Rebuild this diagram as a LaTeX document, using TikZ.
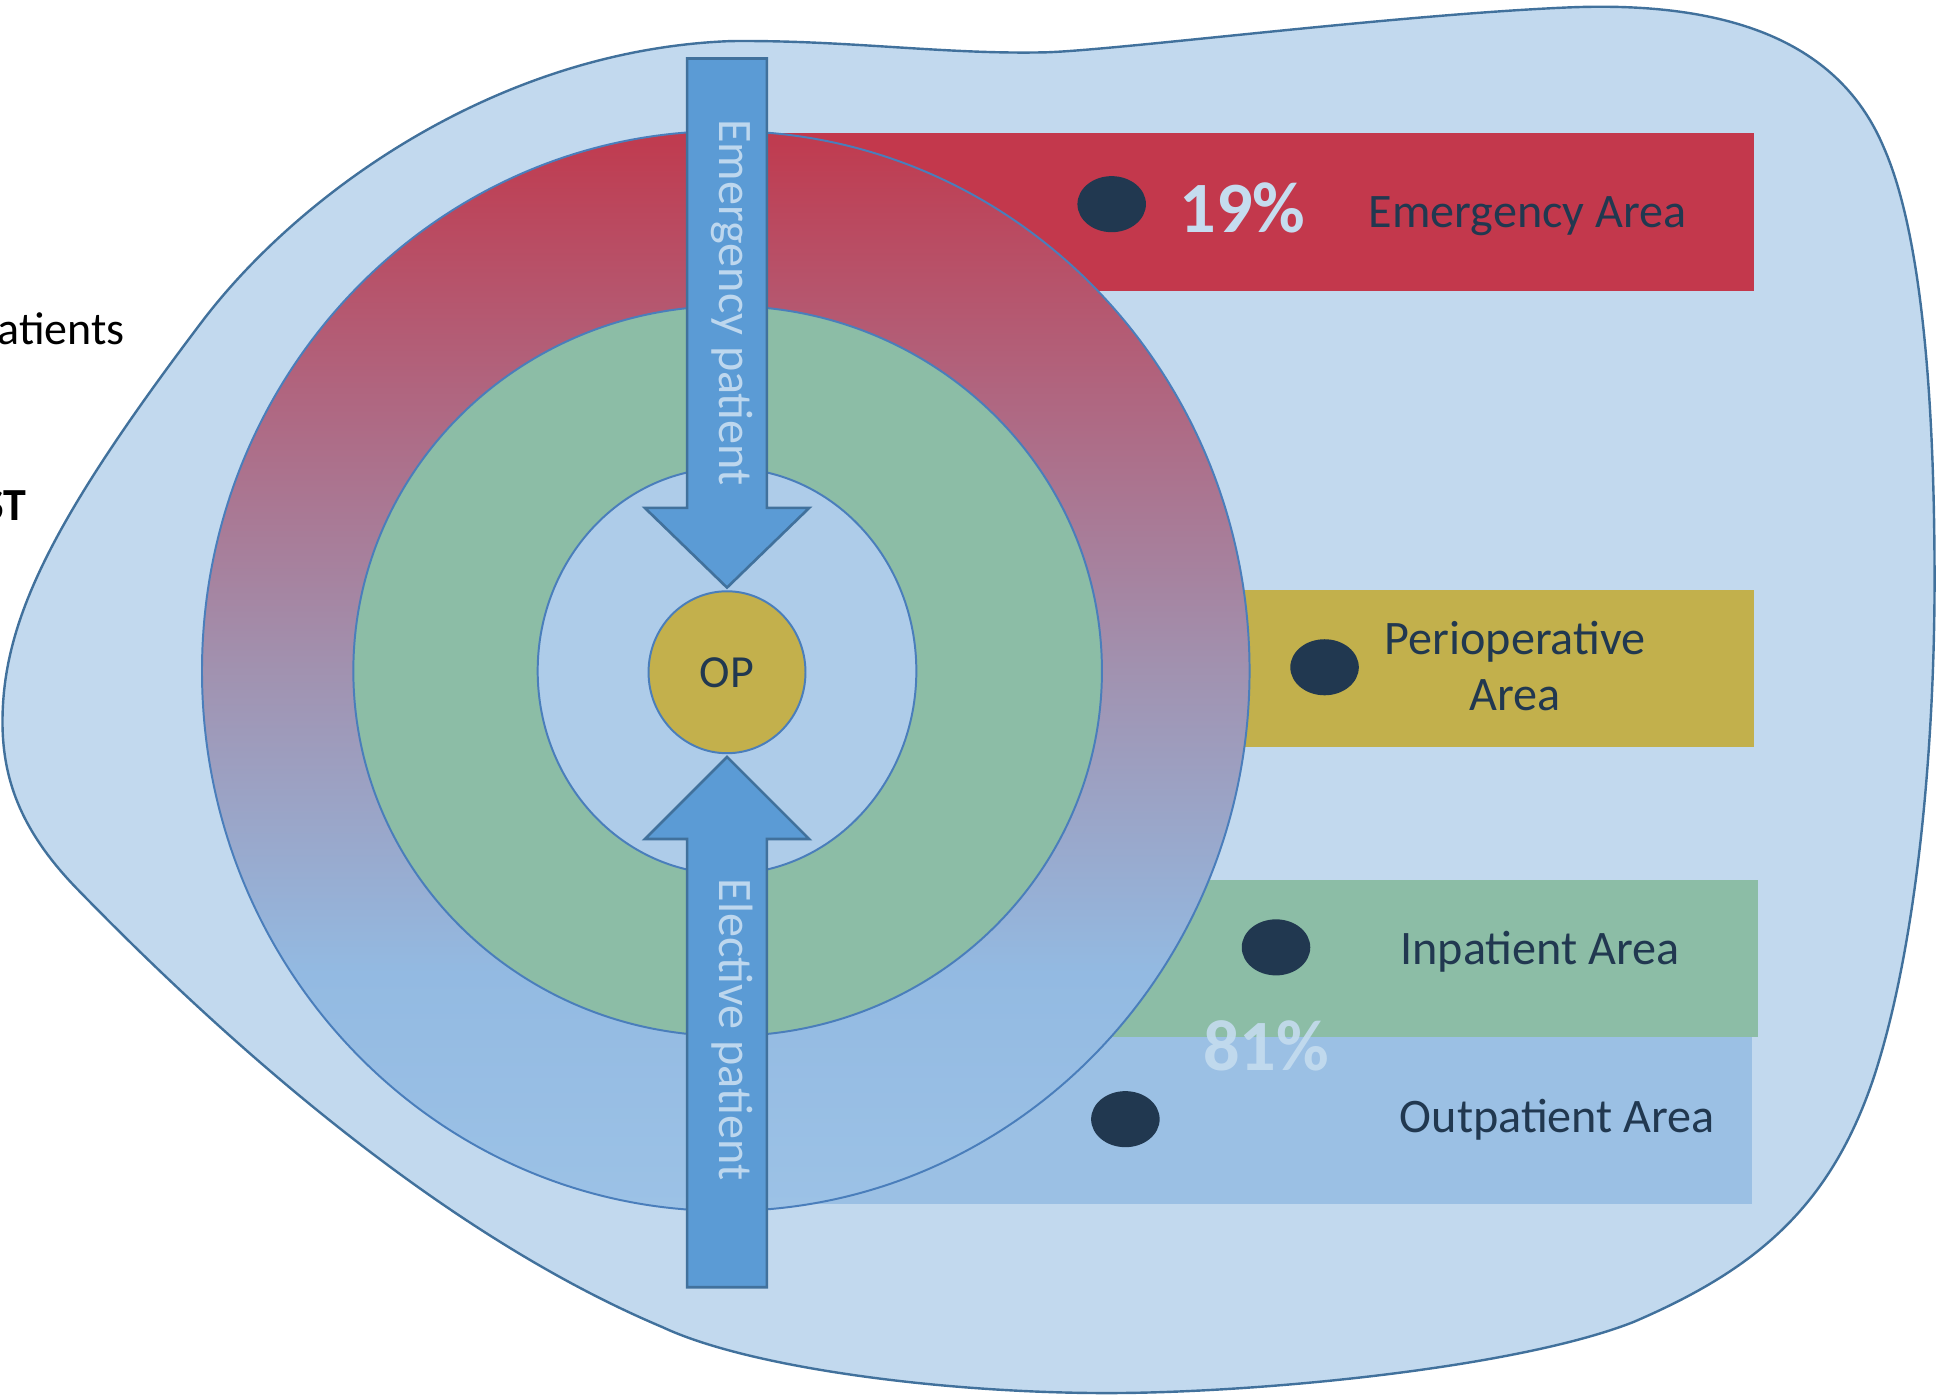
\documentclass[tikz,border=0pt]{standalone}
\usepackage{fontspec}
\setmainfont{Carlito}
\usetikzlibrary{shapes.geometric}
\definecolor{blobfill}{HTML}{C2D9EE}
\definecolor{blobline}{HTML}{41719C}
\definecolor{ringline}{HTML}{4A7EBB}
\definecolor{ringA}{HTML}{9CC2E6}
\definecolor{ringB}{HTML}{93BAE2}
\definecolor{ringC}{HTML}{A192B0}
\definecolor{ringD}{HTML}{B0657F}
\definecolor{ringE}{HTML}{C03A4E}
\definecolor{greenfill}{HTML}{8CBDA6}
\definecolor{innerfill}{HTML}{AECCE9}
\definecolor{opfill}{HTML}{C3B04C}
\definecolor{arrowfill}{HTML}{5B9BD5}
\definecolor{arrowline}{HTML}{41719C}
\definecolor{redbox}{HTML}{C3384C}
\definecolor{yellowbox}{HTML}{C2B04C}
\definecolor{greenbox}{HTML}{8CBDA6}
\definecolor{bluebox}{HTML}{9BC0E4}
\definecolor{navy}{HTML}{213850}
\definecolor{pale}{HTML}{C5DCEF}
\definecolor{arrowtext}{HTML}{BDD7EE}
\pgfdeclareverticalshading{ringshade}{100bp}{color(0bp)=(ringA); color(25bp)=(ringA); color(36bp)=(ringB); color(50bp)=(ringC); color(63bp)=(ringD); color(75bp)=(ringE); color(100bp)=(ringE)}
\begin{document}
\begin{tikzpicture}[x=0.01cm,y=-0.01cm,
  lbl/.style={font=\fontsize{11}{13}\selectfont, text=navy, inner sep=0pt, anchor=base},
  pct/.style={font=\fontsize{16.5}{18}\selectfont\bfseries, inner sep=0pt, anchor=base},
  dot/.style={ellipse, fill=navy, minimum width=0.55cm, minimum height=0.45cm, inner sep=0pt},
  ring/.style={ellipse, draw=ringline, line width=0.45pt, inner sep=0pt},
  parrow/.style={fill=arrowfill, draw=arrowline, line width=0.6pt, line join=miter},
  arrowlbl/.style={font=\fontsize{11}{13}\selectfont, text=arrowtext, rotate=-90, inner sep=0pt},
  sidetxt/.style={font=\fontsize{10.5}{12}\selectfont, text=black, inner sep=0pt, anchor=base east}]
\useasboundingbox (0,0) rectangle (1568,1121);
% background blob
\draw[fill=blobfill, draw=blobline, line width=0.55pt]
  (2,580) .. controls (2,500) and (40,420) .. (161,260)
  .. controls (240,155) and (400,40) .. (587,33)
  .. controls (680,32) and (760,44) .. (841,42)
  .. controls (900,40) and (1120,12) .. (1259,6)
  .. controls (1400,0) and (1480,40) .. (1513,118)
  .. controls (1545,190) and (1554,330) .. (1554,466)
  .. controls (1554,600) and (1540,760) .. (1505,866)
  .. controls (1470,970) and (1410,1020) .. (1312,1062)
  .. controls (1215,1100) and (1000,1120) .. (880,1119)
  .. controls (750,1118) and (600,1098) .. (532,1066)
  .. controls (340,985) and (160,815) .. (60,712)
  .. controls (20,670) and (2,630) .. (2,580) -- cycle;
% side texts
\node[sidetxt] (sidea) at (101,277) {atients};
\node[sidetxt, font=\fontsize{10.5}{12}\selectfont\bfseries] (sideb) at (22,418) {ST};
% area bars
\fill[redbox] (584,107) rectangle (1409,234);
\fill[yellowbox] (960,474) rectangle (1409,600);
\fill[greenbox] (850,707) rectangle (1412,833);
\fill[bluebox] (584,833) rectangle (1407,967);
% rings
\node[ring, shading=ringshade, minimum width=8.41cm, minimum height=8.67cm] (outer) at (583,539) {};
\node[ring, fill=greenfill, minimum width=6.01cm, minimum height=5.86cm] (mid) at (584.5,539) {};
\node[ring, fill=innerfill, minimum width=3.04cm, minimum height=3.26cm] (inner) at (584,539) {};
\node[ring, fill=opfill, minimum width=1.26cm, minimum height=1.30cm, text=navy, font=\fontsize{10.5}{12}\selectfont] (op) at (584,540) {OP};
% arrows
\draw[parrow] (552,47) -- (616,47) -- (616,408) -- (650,408) -- (584,472) -- (518,408) -- (552,408) -- cycle;
\draw[parrow] (552,1034) -- (616,1034) -- (616,674) -- (650,674) -- (584,608) -- (518,674) -- (552,674) -- cycle;
\node[arrowlbl] (emlbl) at (588,243) {Emergency patient};
\node[arrowlbl] (ellbl) at (588,827) {Elective patient};
% dots
\node[dot] (d1) at (893,164) {};
\node[dot] (d2) at (1064,536) {};
\node[dot] (d3) at (1025,761) {};
\node[dot] (d4) at (904,899) {};
% labels
\node[pct, text=pale] (p19) at (998,187) {19\%};
\node[lbl] (t1) at (1227,183) {Emergency Area};
\node[lbl] (t2a) at (1217,526) {Perioperative};
\node[lbl] (t2b) at (1217,571) {Area};
\node[lbl] (t3) at (1237,775) {Inpatient Area};
\node[lbl] (t4) at (1251,910) {Outpatient Area};
\node[pct, text=pale, text opacity=0.9] (p81) at (1017,860) {81\%};
\end{tikzpicture}
\end{document}
